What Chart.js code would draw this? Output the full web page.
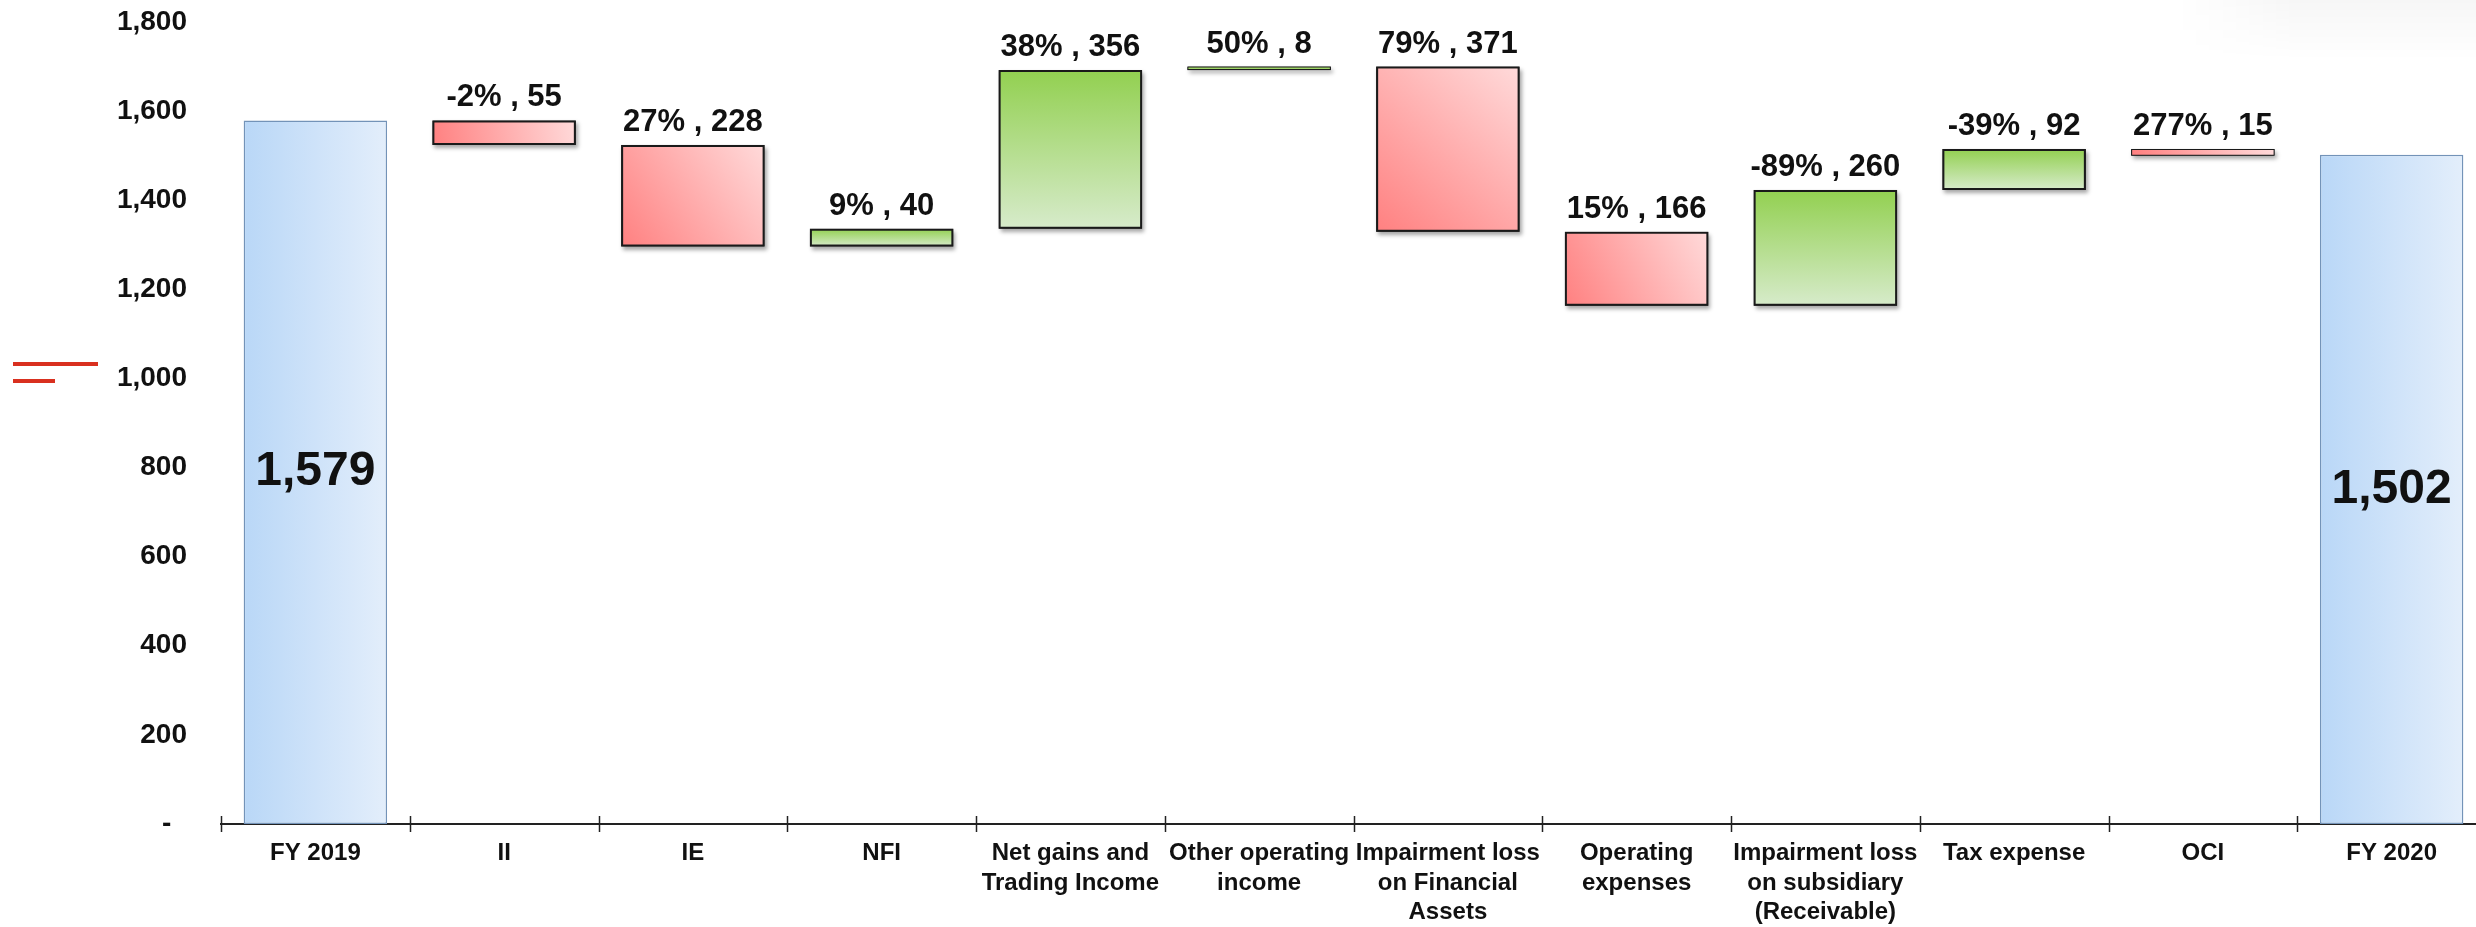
<!DOCTYPE html>
<html>
<head>
<meta charset="utf-8">
<script src="https://cdn.jsdelivr.net/npm/chart.js@4.4.1/dist/chart.umd.min.js"></script>
<style>
  html, body { margin: 0; padding: 0; background: #fff; overflow: hidden; }
  #wrap { position: relative; width: 2476px; height: 927px; overflow: hidden; }
  #myChart { position: absolute; left: 0; top: 0; }
  .mark { position: absolute; background: #d9301f; height: 4px; }
  .glow {
    position: absolute; right: 0; top: 0; width: 300px; height: 60px;
    background: linear-gradient(to right, rgba(0,0,0,0), rgba(0,0,0,0.035) 40%);
    -webkit-mask-image: linear-gradient(to bottom, #000, transparent);
  }
</style>
</head>
<body>
<div id="wrap">
  <canvas id="myChart" width="2486" height="927"></canvas>
  <div class="mark" style="left:13px;top:362px;width:85px"></div>
  <div class="mark" style="left:13px;top:379px;width:42px"></div>
  <div class="glow"></div>
</div>
<script>
var categories = [
  "FY 2019", "II", "IE", "NFI",
  ["Net gains and", "Trading Income"],
  ["Other operating", "income"],
  ["Impairment loss", "on Financial", "Assets"],
  ["Operating", "expenses"],
  ["Impairment loss", "on subsidiary", "(Receivable)"],
  "Tax expense", "OCI", "FY 2020"
];
var openingValue = 1579;
var closingValue = 1502;
var changes = [-55, -228, 40, 356, 8, -371, -166, 260, 92, -15];
var changePct = ["-2%", "27%", "9%", "38%", "50%", "79%", "15%", "-89%", "-39%", "277%"];
var yTicks = [0, 200, 400, 600, 800, 1000, 1200, 1400, 1600, 1800];

var FONT = "'Liberation Sans', Arial, sans-serif";
var BAR_PCT = 0.76;

// floating bars for the waterfall
var totalBars = categories.map(function () { return null; });
var changeBars = categories.map(function () { return null; });
totalBars[0] = [0, openingValue];
totalBars[categories.length - 1] = [0, closingValue];
var running = openingValue;
changes.forEach(function (c, i) {
  var end = running + c;
  changeBars[i + 1] = [Math.min(running, end), Math.max(running, end)];
  running = end;
});

function barBox(context) {
  var chart = context.chart;
  var xs = chart.scales.x, ys = chart.scales.y;
  var cx = xs.getPixelForValue(context.dataIndex);
  var half = xs.width / categories.length * BAR_PCT / 2;
  return {
    left: cx - half, right: cx + half,
    top: ys.getPixelForValue(context.raw[1]),
    bottom: ys.getPixelForValue(context.raw[0])
  };
}

function totalFill(context) {
  if (!context.chart.chartArea || !context.raw) return "#cfe2f8";
  var b = barBox(context);
  var g = context.chart.ctx.createLinearGradient(b.left, 0, b.right, 0);
  g.addColorStop(0, "#b9d7f7");
  g.addColorStop(1, "#e3eefb");
  return g;
}

function changeFill(context) {
  if (!context.raw) return null;
  var up = changes[context.dataIndex - 1] > 0;
  if (!context.chart.chartArea) return up ? "#b5dc90" : "#ffb0b0";
  var b = barBox(context);
  var g;
  if (up) {
    g = context.chart.ctx.createLinearGradient(0, b.top, 0, Math.max(b.bottom, b.top + 10));
    g.addColorStop(0, "#92d050");
    g.addColorStop(1, "#d7ebcb");
  } else {
    g = context.chart.ctx.createLinearGradient(b.left, b.bottom, b.right, b.top);
    g.addColorStop(0, "#ff8080");
    g.addColorStop(1, "#ffdada");
  }
  return g;
}

// thin bars keep a thin outline so the colour still shows
function changeBorder(context) {
  if (!context.raw) return 0;
  return Math.abs(changes[context.dataIndex - 1]) < 20 ? 1 : 2;
}

var barShadow = {
  id: "barShadow",
  beforeDatasetDraw: function (chart, args) {
    if (args.index !== 1) return;
    var ctx = chart.ctx;
    ctx.save();
    ctx.shadowColor = "rgba(0,0,0,0.35)";
    ctx.shadowBlur = 4;
    ctx.shadowOffsetX = 2;
    ctx.shadowOffsetY = 3;
    ctx.fillStyle = "#222";
    args.meta.data.forEach(function (bar, i) {
      if (!changeBars[i]) return;
      ctx.fillRect(bar.x - bar.width / 2, bar.y, bar.width, bar.base - bar.y);
    });
    ctx.restore();
  }
};

var axisTicks = {
  id: "axisTicks",
  afterDraw: function (chart) {
    var ctx = chart.ctx, xs = chart.scales.x, area = chart.chartArea;
    var step = xs.width / categories.length;
    ctx.save();
    ctx.strokeStyle = "#222";
    ctx.lineWidth = 1.5;
    for (var i = 0; i < categories.length; i++) {
      var x = Math.round(xs.getPixelForValue(i) - step / 2) + 0.5;
      ctx.beginPath();
      ctx.moveTo(x, area.bottom - 8);
      ctx.lineTo(x, area.bottom + 8);
      ctx.stroke();
    }
    ctx.restore();
  }
};

var barLabels = {
  id: "barLabels",
  afterDatasetsDraw: function (chart) {
    var ctx = chart.ctx, ys = chart.scales.y;
    ctx.save();
    ctx.fillStyle = "#111";
    ctx.textAlign = "center";
    chart.getDatasetMeta(1).data.forEach(function (bar, i) {
      if (!changeBars[i]) return;
      ctx.font = "bold 31px " + FONT;
      ctx.textBaseline = "alphabetic";
      ctx.fillText(changePct[i - 1] + " , " + Math.abs(changes[i - 1]), bar.x, bar.y - 14);
    });
    chart.getDatasetMeta(0).data.forEach(function (bar, i) {
      if (!totalBars[i]) return;
      ctx.font = "bold 48px " + FONT;
      ctx.textBaseline = "middle";
      ctx.fillText(totalBars[i][1].toLocaleString("en-US"), bar.x, ys.getPixelForValue(totalBars[i][1] / 2));
    });
    ctx.restore();
  }
};

var ctx = document.getElementById("myChart").getContext("2d");
var myChart = new Chart(ctx, {
  type: "bar",
  data: {
    labels: categories,
    datasets: [
      {
        label: "Total",
        data: totalBars,
        backgroundColor: totalFill,
        borderColor: "#7393b8",
        borderWidth: 1.5,
        borderSkipped: false
      },
      {
        label: "Change",
        data: changeBars,
        backgroundColor: changeFill,
        borderColor: "#1a1a1a",
        borderWidth: changeBorder,
        borderSkipped: false
      }
    ]
  },
  options: {
    responsive: false,
    animation: false,
    devicePixelRatio: 1,
    layout: { padding: { top: 22, left: 0, right: 0, bottom: 0 } },
    datasets: { bar: { grouped: false, barPercentage: BAR_PCT, categoryPercentage: 1 } },
    plugins: { legend: { display: false }, tooltip: { enabled: false } },
    scales: {
      x: {
        afterFit: function (scale) { scale.height = 103; },
        grid: { display: false, drawTicks: false },
        border: { display: true, color: "#222", width: 2 },
        ticks: {
          color: "#111",
          padding: 15,
          maxRotation: 0,
          autoSkip: false,
          font: { family: FONT, size: 24, weight: "bold", lineHeight: 1.23 }
        }
      },
      y: {
        min: 0,
        max: 1800,
        afterFit: function (scale) { scale.width = 221; },
        afterBuildTicks: function (scale) {
          scale.ticks = yTicks.map(function (v) { return { value: v }; });
        },
        // hidden tick length gives the gap between labels and the bars
        grid: { display: false, drawTicks: true, tickLength: 34 },
        border: { display: false },
        ticks: {
          color: "#111",
          padding: 0,
          font: { family: FONT, size: 28, weight: "bold" },
          callback: function (value) {
            return value === 0 ? "-  " : value.toLocaleString("en-US");
          }
        }
      }
    }
  },
  plugins: [barShadow, axisTicks, barLabels]
});
</script>
</body>
</html>
